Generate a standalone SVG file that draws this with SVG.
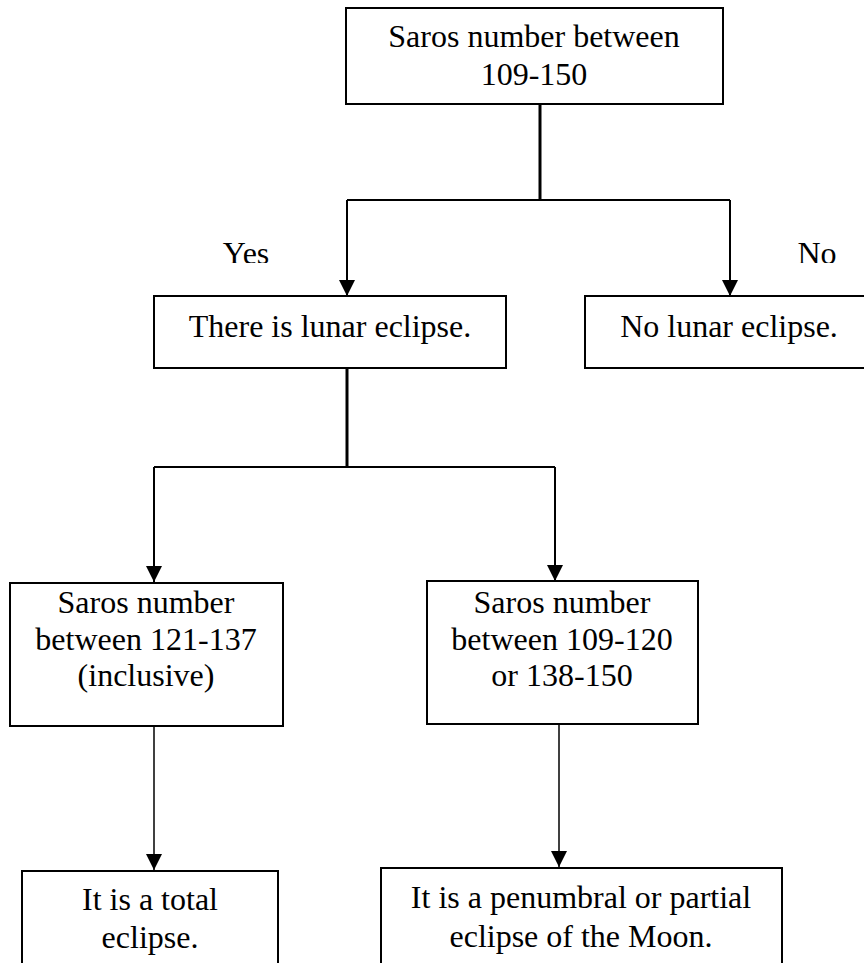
<svg xmlns="http://www.w3.org/2000/svg" width="864" height="963" viewBox="0 0 864 963">
<style>
.box{fill:#fff;stroke:#000;stroke-width:2}
.t{font-family:"Liberation Serif","Times New Roman",serif;font-size:32px;fill:#000;text-anchor:middle}
.c{fill:none;stroke:#000;stroke-width:2}
.s{fill:none;stroke:#000;stroke-width:3}
</style>
<defs>
<marker id="ah" markerUnits="userSpaceOnUse" markerWidth="16" markerHeight="16" viewBox="0 0 16 16" refX="16" refY="8" orient="auto">
<path d="M0,0 L16,8 L0,16 Z" fill="#000"/>
</marker>
<clipPath id="lab"><rect x="0" y="230" width="864" height="33"/></clipPath>
</defs>
<rect width="864" height="963" fill="#fff"/>
<g id="connectors">
<line class="s" x1="540" y1="104" x2="540" y2="200"/>
<polyline class="c" points="347,200 730,200"/>
<line class="c" x1="347" y1="200" x2="347" y2="296" marker-end="url(#ah)"/>
<line class="c" x1="730" y1="200" x2="730" y2="296" marker-end="url(#ah)"/>
<line class="s" x1="347" y1="368" x2="347" y2="467"/>
<polyline class="c" points="154,467 555,467"/>
<line class="c" x1="154" y1="467" x2="154" y2="582" marker-end="url(#ah)"/>
<line class="c" x1="555" y1="467" x2="555" y2="581" marker-end="url(#ah)"/>
<line class="c" x1="154" y1="726" x2="154" y2="870" marker-end="url(#ah)" style="stroke-width:1.5"/>
<line class="c" x1="559" y1="724" x2="559" y2="867" marker-end="url(#ah)" style="stroke-width:1.5"/>
<g clip-path="url(#lab)">
<text class="t" x="246" y="264">Yes</text>
<text class="t" x="817" y="264">No</text>
</g>
</g>
<g id="n1">
<rect class="box" x="346" y="8" width="377" height="96"/>
<text class="t" x="534" y="47">Saros number between</text>
<text class="t" x="534" y="85">109-150</text>
</g>
<g id="n2">
<rect class="box" x="154" y="296" width="352" height="72"/>
<text class="t" x="330" y="337">There is lunar eclipse.</text>
</g>
<g id="n3">
<rect class="box" x="585" y="296" width="290" height="72"/>
<text class="t" x="729" y="337">No lunar eclipse.</text>
</g>
<g id="n4">
<rect class="box" x="10" y="583" width="273" height="143"/>
<text class="t" x="146" y="613">Saros number</text>
<text class="t" x="146" y="650">between 121-137</text>
<text class="t" x="146" y="686">(inclusive)</text>
</g>
<g id="n5">
<rect class="box" x="427" y="581" width="271" height="143"/>
<text class="t" x="562" y="613">Saros number</text>
<text class="t" x="562" y="650">between 109-120</text>
<text class="t" x="562" y="686">or 138-150</text>
</g>
<g id="n6">
<rect class="box" x="22" y="871" width="256" height="110"/>
<text class="t" x="150" y="910">It is a total</text>
<text class="t" x="150" y="948">eclipse.</text>
</g>
<g id="n7">
<rect class="box" x="381" y="868" width="401" height="110"/>
<text class="t" x="581" y="908">It is a penumbral or partial</text>
<text class="t" x="581" y="947">eclipse of the Moon.</text>
</g>
</svg>
